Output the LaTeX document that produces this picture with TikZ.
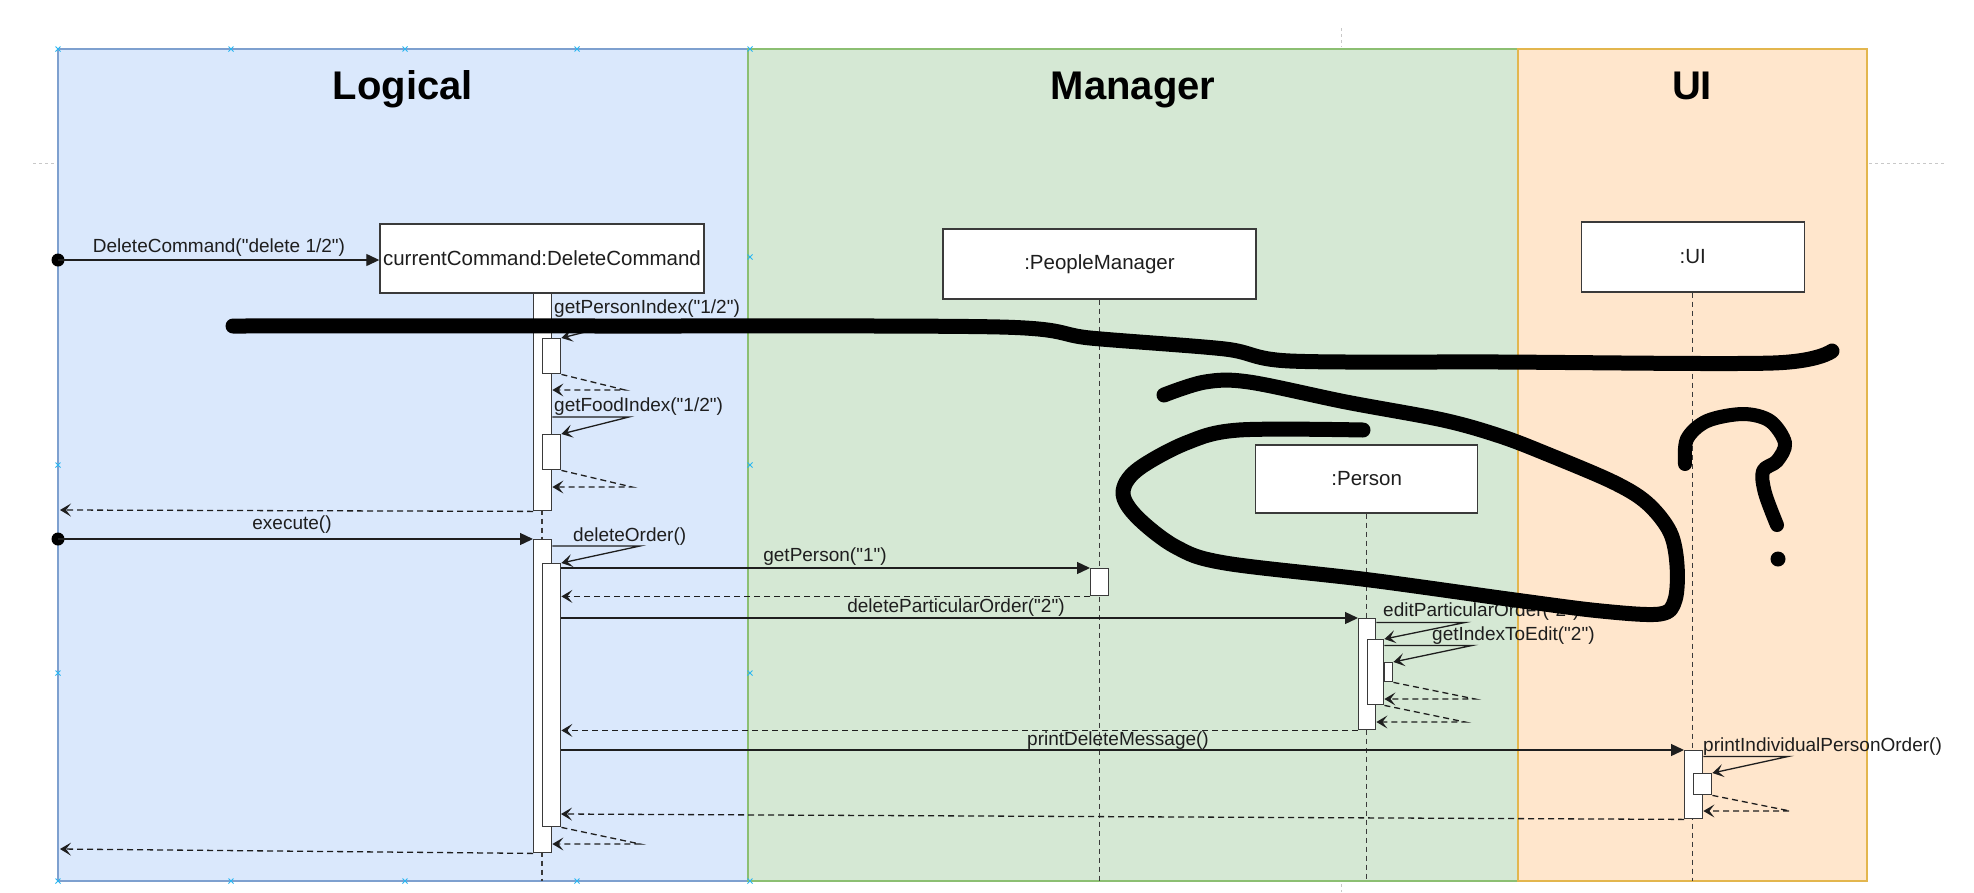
\documentclass[tikz,border=0pt]{standalone}
\usepackage{fontspec}
\setmainfont{Liberation Sans}[Ligatures=TeXOff]
\usetikzlibrary{arrows.meta,calc}
\definecolor{logicfill}{HTML}{DAE8FC}
\definecolor{logicline}{HTML}{7EA0CF}
\definecolor{mgrfill}{HTML}{D5E8D4}
\definecolor{mgrline}{HTML}{8CBF72}
\definecolor{uifill}{HTML}{FFE6CC}
\definecolor{uiline}{HTML}{E3B64E}
\definecolor{ink}{HTML}{1E1E1E}
\definecolor{boxline}{HTML}{3A3A3A}
\definecolor{handle}{HTML}{29B6F2}
\definecolor{guide}{HTML}{C8C8C8}

\begin{document}
\begin{tikzpicture}[x=1pt,y=-1pt,
  lane/.style={line width=1.5pt},
  title/.style={font=\fontsize{40}{46}\selectfont\bfseries, anchor=base, text=black, inner sep=0},
  objbox/.style={draw=boxline, fill=white, line width=1.4pt, inner sep=0,
                 font=\fontsize{20.5}{24}\selectfont, text=ink},
  act/.style={draw=boxline, fill=white, line width=1.4pt, inner sep=0, anchor=north west},
  life/.style={draw=boxline, line width=1.3pt, dash pattern=on 5pt off 4pt},
  call/.style={draw=ink, line width=1.3pt, -{Triangle[length=13pt,width=12pt]}},
  selfcall/.style={draw=ink, line width=1.3pt, -{Stealth[length=11pt,width=13pt,inset=5pt]}},
  ret/.style={draw=ink, line width=1.3pt, dash pattern=on 6pt off 4pt,
              -{Stealth[length=11pt,width=13pt,inset=5pt]}},
  msg/.style={font=\fontsize{19}{22}\selectfont, text=ink, inner sep=0},
  found/.style={circle, fill=black, minimum size=13pt, inner sep=0},
  scribble/.style={line width=15pt, line cap=round, line join=round, draw=black},
  guideline/.style={draw=guide, line width=0.8pt, dash pattern=on 3pt off 3pt},
  handlemark/.style={draw=handle, line width=0.8pt},
]
\useasboundingbox (0,0) rectangle (1974,892);
\fill[white] (0,0) rectangle (1974,892);

% swimlanes
\path[lane, fill=logicfill, draw=logicline] (58,49) rectangle (748,881);
\path[lane, fill=mgrfill, draw=mgrline] (748,49) rectangle (1518,881);
\path[lane, fill=uifill, draw=uiline] (1518,49) rectangle (1867,881);

% page guides
\draw[guideline] (33,163) -- (57,163);
\draw[guideline] (1869,163) -- (1945,163);
\draw[guideline] (1341,28) -- (1341,47);
\draw[guideline] (1341,884) -- (1341,892);

% selection handles of the Logical lane
\foreach \hx in {58,231,405,577,750} {
  \draw[handlemark] (\hx-2.5,46.5) -- (\hx+2.5,51.5) (\hx-2.5,51.5) -- (\hx+2.5,46.5);
  \draw[handlemark] (\hx-2.5,878.5) -- (\hx+2.5,883.5) (\hx-2.5,883.5) -- (\hx+2.5,878.5);
}
\foreach \hy in {257,465,673} {
  \draw[handlemark] (55.5,\hy-2.5) -- (60.5,\hy+2.5) (55.5,\hy+2.5) -- (60.5,\hy-2.5);
  \draw[handlemark] (747.5,\hy-2.5) -- (752.5,\hy+2.5) (747.5,\hy+2.5) -- (752.5,\hy-2.5);
}

% lane titles
\node[title] (tLogical) at (403,99) {Logical};
\node[title] (tManager) at (1133,99) {Manager};
\node[title] (tUI) at (1692,99) {UI};

% participants
\node[objbox, minimum width=324pt, minimum height=69pt] (cmd) at (542,258.5) {currentCommand:DeleteCommand};
\node[objbox, minimum width=313pt, minimum height=70pt] (pm) at (1099.5,264) {:PeopleManager};
\node[objbox, minimum width=222pt, minimum height=68pt] (person) at (1366.7,479) {:Person};
\node[objbox, minimum width=223pt, minimum height=70pt] (ui) at (1692.7,257) {:UI};

\coordinate (bottom) at (0,881);
\draw[life] (cmd.south) -- (cmd.south |- bottom);
\draw[life] (pm.south) -- (pm.south |- bottom);
\draw[life] (person.south) -- (person.south |- bottom);
\draw[life] (ui.south) -- (ui.south |- bottom);

% activations
\node[act, minimum width=18pt, minimum height=217pt] (a1) at (533,293) {};
\node[act, minimum width=18pt, minimum height=35pt] (n1) at (542,338) {};
\node[act, minimum width=18pt, minimum height=35pt] (n2) at (542,434) {};
\node[act, minimum width=18pt, minimum height=313pt] (a2) at (533,539) {};
\node[act, minimum width=18pt, minimum height=263pt] (n3) at (542,563) {};
\node[act, minimum width=18pt, minimum height=27pt] (pmact) at (1090,568) {};
\node[act, minimum width=17pt, minimum height=111pt] (pa) at (1358,618) {};
\node[act, minimum width=16pt, minimum height=65pt] (pb) at (1367,639) {};
\node[act, minimum width=8pt, minimum height=19pt] (pc) at (1384,662) {};
\node[act, minimum width=18pt, minimum height=68pt] (uia) at (1684,750) {};
\node[act, minimum width=18pt, minimum height=21pt] (uib) at (1693,773) {};

% construction
\node[found] (s1) at (58,260) {};
\draw[call] (s1.center) -- (s1.center -| cmd.west);
\node[msg, anchor=base] (l1) at (219,252) {DeleteCommand("delete 1/2")};

\coordinate (b1) at (629,321);
\draw[selfcall] (b1 -| a1.east) -- (b1) -- (n1.north east);
\node[msg, anchor=base west] (l2) at (554,313) {getPersonIndex("1/2")};
\coordinate (r1) at (625,390);
\draw[ret] (n1.south east) -- (r1) -- (r1 -| a1.east);

\coordinate (b2) at (629,417);
\draw[selfcall] (b2 -| a1.east) -- (b2) -- (n2.north east);
\node[msg, anchor=base west] (l3) at (554,411) {getFoodIndex("1/2")};
\coordinate (r2) at (632,487);
\draw[ret] (n2.south east) -- (r2) -- (r2 -| a1.east);

\coordinate (edge1) at (60,510);
\draw[ret] (a1.south west) -- (edge1);

% execution
\node[found] (s2) at (58,539) {};
\draw[call] (s2.center) -- (a2.north west);
\node[msg, anchor=base] (l4) at (292,529) {execute()};

\coordinate (b3) at (640,546);
\draw[selfcall] (b3 -| a2.east) -- (b3) -- (n3.north east);
\node[msg, anchor=base west] (l5) at (573,541.5) {deleteOrder()};

\draw[call] (n3.east |- pmact.north west) -- (pmact.north west);
\node[msg, anchor=base] (l6) at (825,561.5) {getPerson("1")};
\draw[ret] (pmact.south west) -- (pmact.south west -| n3.east);

\draw[call] (n3.east |- pa.north west) -- (pa.north west);
\node[msg, anchor=base] (l7) at (956,612.5) {deleteParticularOrder("2")};

\coordinate (b4) at (1465,622.5);
\draw[selfcall] (b4 -| pa.east) -- (b4) -- (pb.north east);
\node[msg, anchor=base west] (l8) at (1383,616.5) {editParticularOrder("2")};
\coordinate (b5) at (1472,645.5);
\draw[selfcall] (b5 -| pb.east) -- (b5) -- (pc.north east);
\node[msg, anchor=base west] (l9) at (1432,640) {getIndexToEdit("2")};
\coordinate (r5) at (1475,699);
\draw[ret] (pc.south east) -- (r5) -- (r5 -| pb.east);
\coordinate (r4) at (1465,722);
\draw[ret] (pb.south east) -- (r4) -- (r4 -| pa.east);
\draw[ret] (pa.south west) -- (pa.south west -| n3.east);

\draw[call] (n3.east |- uia.north west) -- (uia.north west);
\node[msg, anchor=base] (l10) at (1118,745.5) {printDeleteMessage()};
\coordinate (b6) at (1788,756.5);
\draw[selfcall] (b6 -| uia.east) -- (b6) -- (uib.north east);
\node[msg, anchor=base west] (l11) at (1703,751.5) {printIndividualPersonOrder()};
\coordinate (r6) at (1790,811);
\draw[ret] (uib.south east) -- (r6) -- (r6 -| uia.east);
\coordinate (r7) at (561,814);
\draw[ret] (uia.south west) -- (r7);

\coordinate (r8) at (640,844);
\draw[ret] (n3.south east) -- (r8) -- (r8 -| a2.east);
\coordinate (edge2) at (60,849);
\draw[ret] (a2.south west) -- (edge2);

% hand-drawn marks over the diagram
\draw[scribble] plot[smooth, tension=0.5] coordinates {
  (233,326) (600,326) (1000,327) (1090,338) (1225,349) (1290,361)
  (1500,362) (1773,363) (1832,351)};
\draw[scribble] plot[smooth, tension=0.55] coordinates {
  (1164,395) (1205,382) (1249,382) (1346,402) (1443,420) (1500,436)
  (1547,454) (1613,482) (1647,503) (1670,532) (1677,565) (1675,600)
  (1660,614) (1601,611) (1515,600) (1370,580) (1225,563) (1176,547)
  (1137,517) (1123,493) (1137,470) (1186,443) (1239,430) (1363,430)};
\draw[scribble, line width=14pt] plot[smooth, tension=0.55] coordinates {
  (1685,464) (1687,439) (1707,421) (1743,414) (1770,421) (1785,443)
  (1777,461) (1763,471) (1765,493) (1777,525)};
\fill[black] (1778,559) circle (7.5pt);
\end{tikzpicture}
\end{document}
